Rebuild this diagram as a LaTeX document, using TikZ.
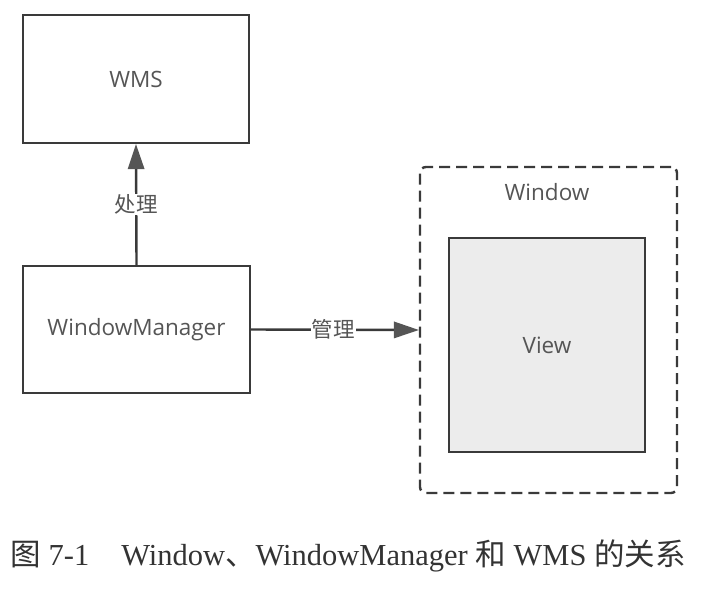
\documentclass[tikz,border=0pt]{standalone}
\usepackage{fontspec}
\setmainfont{Liberation Serif}
\newfontfamily\cjk{Noto Sans CJK SC}
\newfontfamily\uisans{Open Sans}
\usetikzlibrary{arrows.meta}
\definecolor{edgec}{HTML}{3A3A3A}
\definecolor{txtc}{HTML}{555555}
\definecolor{viewfill}{HTML}{ECECEC}
\begin{document}
\begin{tikzpicture}[x=1pt,y=-1pt,
  box/.style={draw=edgec, line width=2.4pt, rectangle, inner sep=0pt,
    font=\uisans\fontsize{22.5}{26}\selectfont, text=txtc},
  conn/.style={draw=edgec, line width=2.4pt,
    -{Triangle[length=25pt,width=17pt,color=txtc,line width=0pt]}},
  lbl/.style={fill=white, inner sep=1pt, font=\cjk\fontsize{21.5}{25}\selectfont, text=txtc}
]
\useasboundingbox (0,0) rectangle (704,592);
\node[box, minimum width=226pt, minimum height=128pt] (wms) at (136,79) {WMS};
\node[box, minimum width=227pt, minimum height=127pt] (wm) at (136.5,329.5) {WindowManager};
\node[draw=edgec, line width=2.4pt, dash pattern=on 11pt off 6pt, rounded corners=6pt,
  minimum width=257pt, minimum height=326pt, inner sep=0pt] (window) at (548.5,330) {};
\node[font=\uisans\fontsize{22.5}{26}\selectfont, text=txtc] (wlabel) at (547,192) {Window};
\node[box, fill=viewfill, minimum width=196pt, minimum height=214pt] (view) at (547,345) {View};
\draw[conn] (wm.north) -- node[lbl, pos=0.5] (l1) {处理} (wms.south);
\draw[conn] (wm.east) -- node[lbl, pos=0.49] (l2) {管理} (window.west);
\node[font=\fontsize{30.5}{35}\selectfont, text=black!80, anchor=west] (caption) at (7,556)
  {{\cjk 图} 7-1\hspace{1.05em}Window{\cjk 、}WindowManager {\cjk 和} WMS {\cjk 的关系}};
\end{tikzpicture}
\end{document}
